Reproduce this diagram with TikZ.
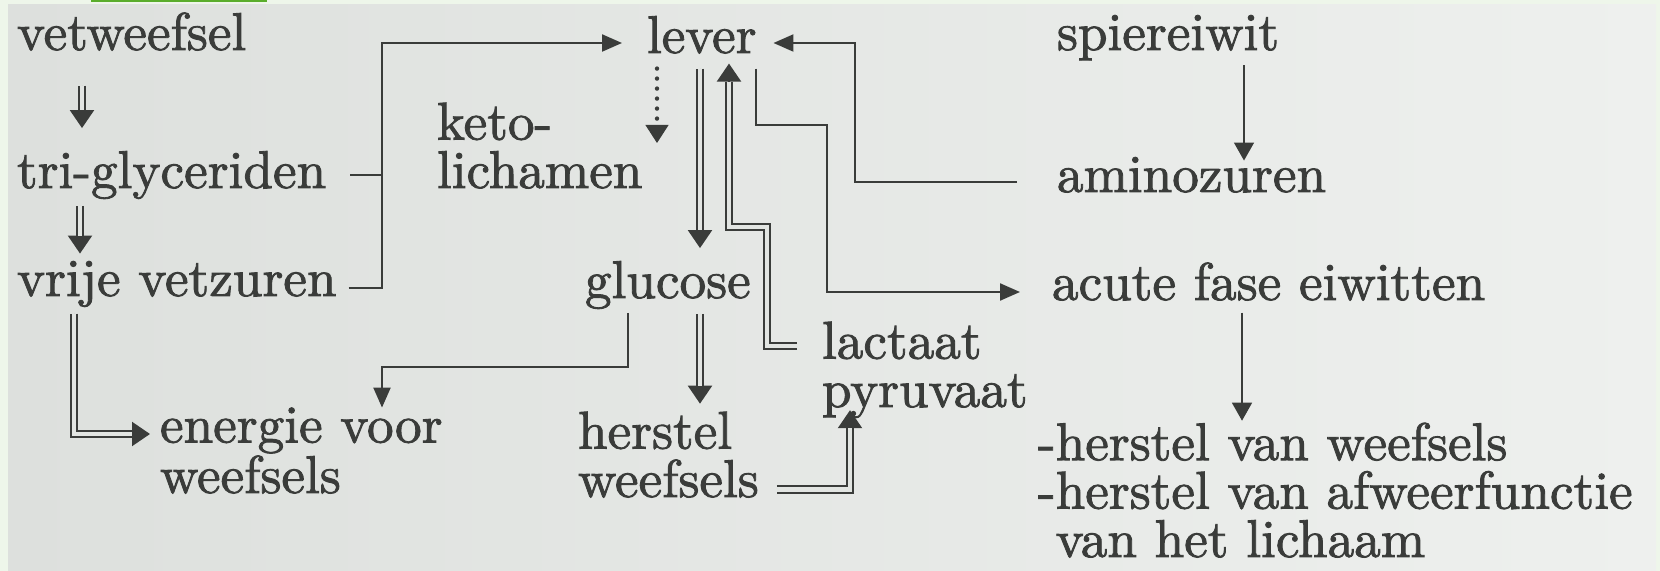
\documentclass[tikz,border=0pt]{standalone}
\usepackage{tikz}
\usetikzlibrary{arrows.meta}
\definecolor{ink}{RGB}{58,60,58}
\definecolor{paper}{RGB}{226,229,226}
\definecolor{scanleft}{RGB}{221,224,221}
\definecolor{scanright}{RGB}{238,240,238}
\definecolor{frame}{RGB}{238,246,234}
\definecolor{bargreen}{RGB}{90,173,44}
\font\lblfont="[lmroman10-regular]:+tlig;embolden=1.6" at 26.6pt

\begin{document}
\begin{tikzpicture}[x=0.5pt, y=-0.5pt,
    lbl/.style={inner sep=0pt, outer sep=0pt, anchor=base west, align=left,
        text=ink, font={\lblfont\baselineskip=24.2pt}},
    link/.style={draw=ink, line width=1.1pt},
    arrow/.style={draw=ink, line width=1.1pt, -{Triangle[length=10pt, width=8.5pt]}},
    thin/.style={draw=ink, line width=0.75pt, -{Triangle[length=9pt, width=10pt]}},
    dots/.style={draw=ink, line width=2.2pt, line cap=round, dash pattern=on 0pt off 5pt,
        -{Triangle[length=9pt, width=11.5pt, line width=0.5pt]}},
    dbl/.style={draw=ink, line width=1.1pt, -{Triangle[length=9pt, width=12pt]},
        postaction={draw=ink, -, line width=0.9pt, double=paper,
            double distance=2.4pt, shorten >=#1}}]
\useasboundingbox (0,0) rectangle (1660,571);
\fill[frame] (0,0) rectangle (1660,571);
\shade[left color=scanleft, right color=scanright] (8,5) rectangle (1656,571);
\fill[bargreen] (91,0) rectangle (267,2.5);

\node[lbl] (vet)     at (17,50)   {vetweefsel};
\node[lbl] (trig)    at (17,188)  {tri-glyceriden};
\node[lbl] (vvz)     at (17,296)  {vrije vetzuren};
\node[lbl] (energie) at (160,493) {energie voor\\weefsels};
\node[lbl] (keto)    at (437,188) {keto-\\lichamen};
\node[lbl] (lever)   at (647,53)  {lever};
\node[lbl] (glucose) at (585,298) {glucose};
\node[lbl] (herstel) at (578,497) {herstel\\weefsels};
\node[lbl] (lactaat) at (822,407) {lactaat\\pyruvaat};
\node[lbl] (spier)   at (1057,50) {spiereiwit};
\node[lbl] (amino)   at (1057,192) {aminozuren};
\node[lbl] (acute)   at (1052,300) {acute fase eiwitten};
\node[lbl] (hlist)   at (1038,557)
    {-herstel van weefsels\\-herstel van afweerfunctie\\\hphantom{-}van het lichaam};

\coordinate (jtop)  at (382,43);
\coordinate (gbend) at (382,367);
\coordinate (lbend) at (767,227);
\coordinate (abend) at (855,43);
\coordinate (cbend) at (827,125);

\draw[dbl=20.5pt, shorten <=17.5pt, shorten >=11.5pt] (vet.south -| 82,0) -- (trig.north -| 82,0);
\draw[dbl=12.75pt, shorten <=3.4pt, shorten >=3.75pt] (trig.south -| 80,0) -- (vvz.north -| 80,0);
\draw[link, shorten <=12pt] (trig.east) -- (trig.east -| jtop);
\draw[arrow, shorten <=6pt, shorten >=12.5pt] ([yshift=-2pt]vvz.east) -| (jtop) -- (lever.west |- jtop);
\draw[dbl=14pt, shorten <=3.4pt, shorten >=5pt] (vvz.south -| 74,0) |- ([yshift=29.5pt]energie.base west);
\draw[arrow, shorten <=2pt] (glucose.south -| 628,0) |- (gbend) -- (energie.north -| gbend);
\draw[dots, shorten <=7.5pt, shorten >=22.5pt] (lever.south -| 657,0) -- (keto.base -| 657,0);
\draw[dbl=15.5pt, shorten <=7.5pt, shorten >=6.5pt] (lever.south -| 700,0) -- (glucose.north -| 700,0);
\draw[dbl=14pt, shorten <=12.5pt, shorten >=5pt] ([yshift=30.5pt]lactaat.base west) -| (lbend) -| (lever.south -| 729,0);
\draw[dbl=13pt, shorten <=2.4pt, shorten >=4pt] (glucose.south -| 700,0) -- (herstel.north -| 700,0);
\draw[dbl=5.15pt, shorten <=9pt, shorten >=-3.85pt] ([yshift=4pt]herstel.south east) -| (lactaat.south -| 850,0);
\draw[arrow, shorten <=20pt, shorten >=8.5pt] ([yshift=5pt]amino.base west) -| (abend) -- (lever.east |- abend);
\draw[arrow, shorten <=7.5pt, shorten >=16pt] (lever.south -| 756,0) |- (cbend) |- ([yshift=4pt]acute.base west);
\draw[thin, shorten <=2.4pt, shorten >=-1.75pt] (spier.south -| 1244,0) -- (amino.north -| 1244,0);
\draw[thin, shorten <=6pt, shorten >=1pt] (acute.south -| 1242,0) -- (hlist.north -| 1242,0);
\end{tikzpicture}
\end{document}
